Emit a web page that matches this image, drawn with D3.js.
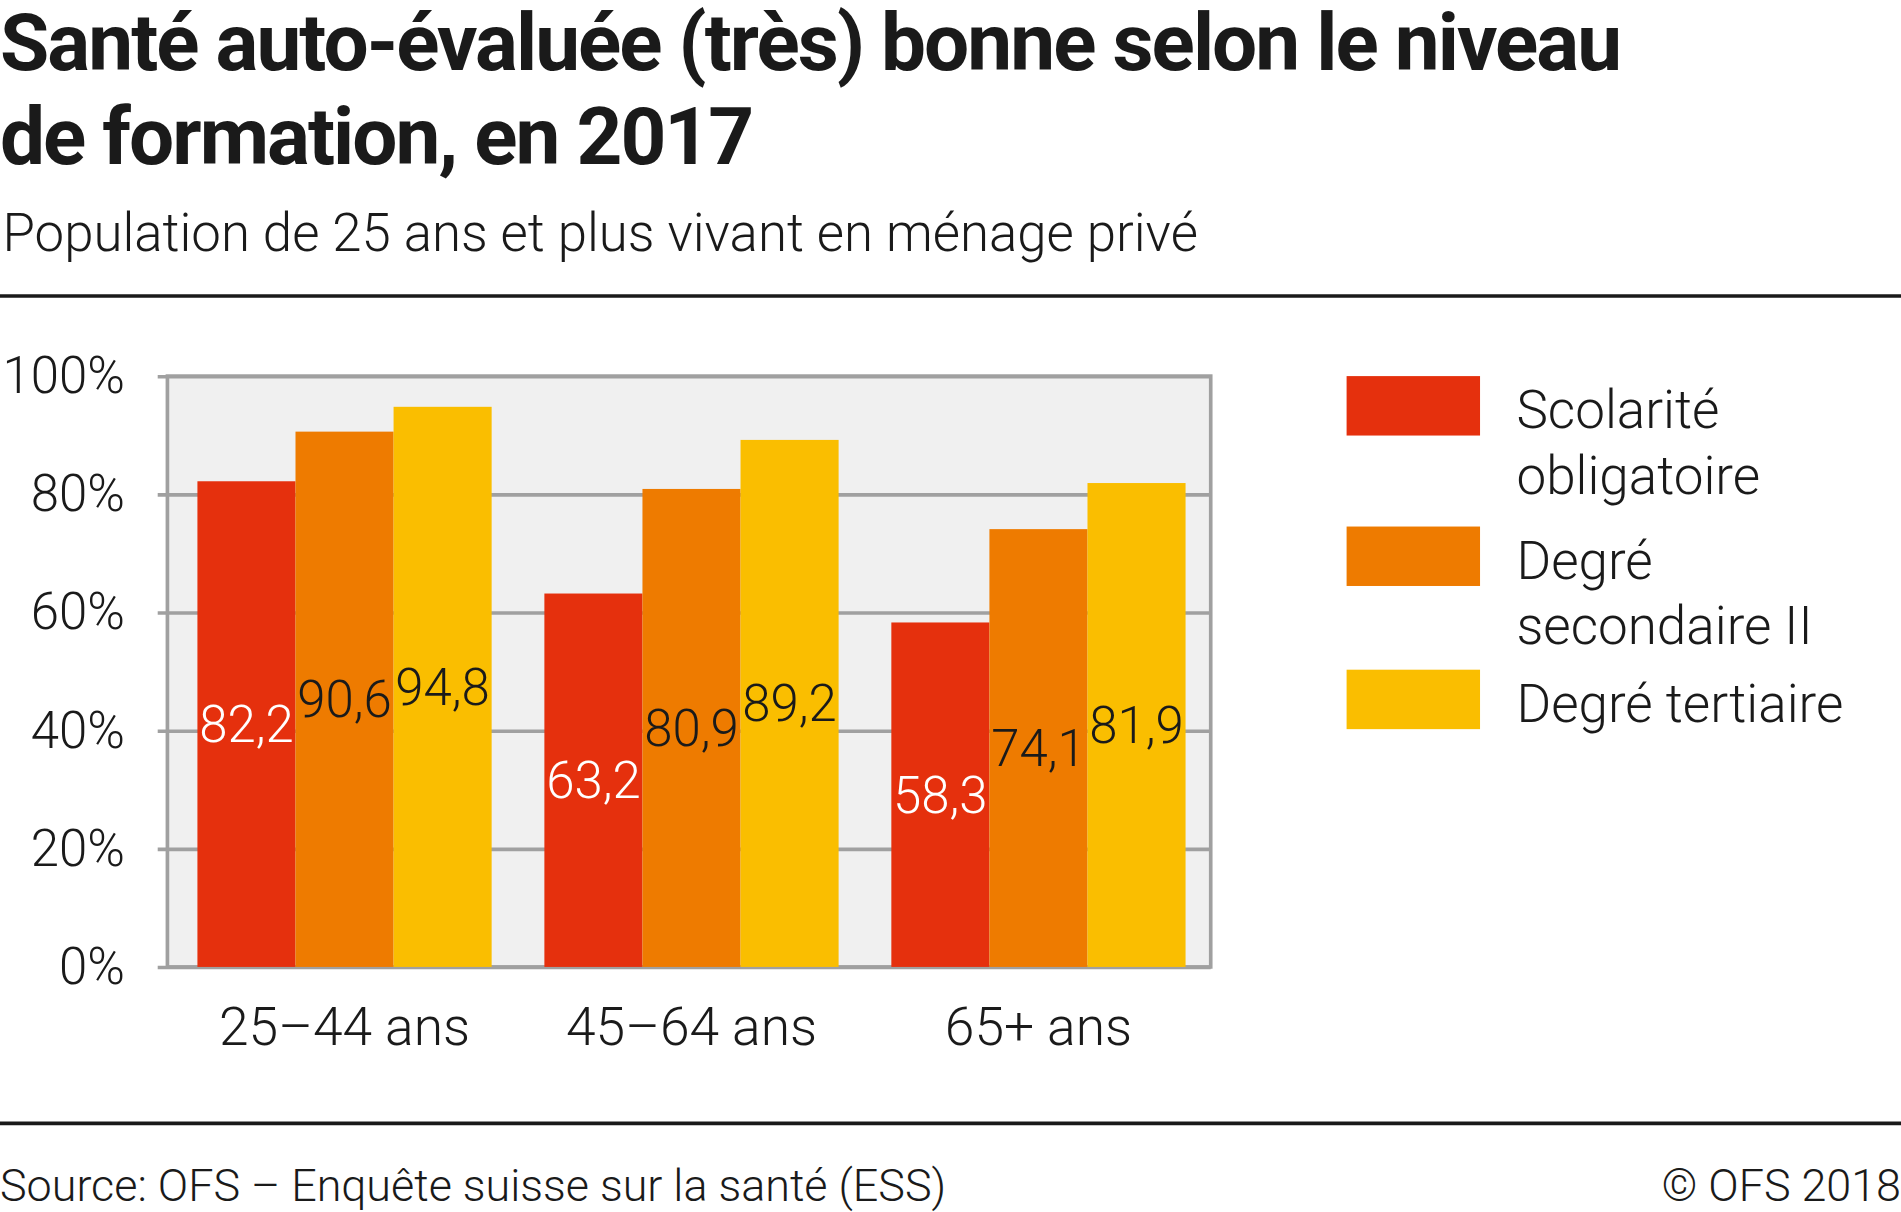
<!DOCTYPE html>
<html>
<head>
<meta charset="utf-8">
<script src="https://cdn.jsdelivr.net/npm/d3@7"></script>
<style>
  body { margin: 0; background: #fff; }
  text { font-family: Roboto, "Noto Sans", sans-serif; }
</style>
</head>
<body>
<div id="chart"></div>
<script>
// categories and series
const ageGroups = ["25–44 ans", "45–64 ans", "65+ ans"];
const seriesNames = ["Scolarité obligatoire", "Degré secondaire II", "Degré tertiaire"];
const legendLines = [["Scolarité", "obligatoire"], ["Degré", "secondaire II"], ["Degré tertiaire"]];
const scolarite = [82.2, 63.2, 58.3];
const secondaire = [90.6, 80.9, 74.1];
const tertiaire = [94.8, 89.2, 81.9];
const yTicks = [0, 20, 40, 60, 80, 100];
const colors = ["#e5300d", "#ee7b00", "#fabe00"];

// layout is drawn in a 1567x999 box, then stretched to the window
const W = 1567, H = 999;
const svg = d3.select("#chart").append("svg")
  .attr("width", 1901).attr("height", 1212)
  .attr("viewBox", `0 0 ${W} ${H}`)
  .attr("preserveAspectRatio", "none");

// title + subtitle
svg.append("text").attr("x", 0).attr("y", 58)
  .attr("font-size", 66).attr("font-weight", 700).attr("letter-spacing", -1.6)
  .attr("fill", "#1a1a1a")
  .text("Santé auto-évaluée (très) bonne selon le niveau");
svg.append("text").attr("x", 0).attr("y", 135)
  .attr("font-size", 66).attr("font-weight", 700).attr("letter-spacing", -1.6)
  .attr("fill", "#1a1a1a")
  .text("de formation, en 2017");
svg.append("text").attr("x", 2).attr("y", 207)
  .attr("font-size", 43.5).attr("font-weight", 300).attr("fill", "#1a1a1a")
  .text("Population de 25 ans et plus vivant en ménage privé");

svg.append("line").attr("x1", 0).attr("x2", W).attr("y1", 244).attr("y2", 244)
  .attr("stroke", "#1a1a1a").attr("stroke-width", 3);
svg.append("line").attr("x1", 0).attr("x2", W).attr("y1", 926).attr("y2", 926)
  .attr("stroke", "#1a1a1a").attr("stroke-width", 3);

// plot area
const plot = { left: 138, right: 998, top: 310, bottom: 797 };

const x0 = d3.scaleBand().domain(ageGroups)
  .range([plot.left + 3, plot.right + 1]).paddingInner(0.152).paddingOuter(0.076);
const x1 = d3.scaleBand().domain(seriesNames).range([0, x0.bandwidth()]);
const y = d3.scaleLinear().domain([0, 100]).range([plot.bottom, plot.top]);

svg.append("rect")
  .attr("x", plot.left).attr("y", plot.top)
  .attr("width", plot.right - plot.left).attr("height", plot.bottom - plot.top)
  .attr("fill", "#f0f0f0");

// y axis with gridlines
const yAxis = svg.append("g")
  .attr("transform", `translate(${plot.left},0)`)
  .call(d3.axisLeft(y).tickValues(yTicks)
    .tickSize(-(plot.right - plot.left)).tickPadding(35)
    .tickFormat(d => d + "%"));
yAxis.select(".domain").remove();
yAxis.selectAll(".tick line")
  .attr("x1", -8).attr("stroke", "#a0a0a0").attr("stroke-width", 3);
yAxis.selectAll(".tick text")
  .attr("font-size", 42).attr("font-weight", 300).attr("fill", "#1a1a1a")
  .attr("font-family", "Roboto");

// frame
svg.append("rect")
  .attr("x", plot.left).attr("y", plot.top)
  .attr("width", plot.right - plot.left).attr("height", plot.bottom - plot.top)
  .attr("fill", "none").attr("stroke", "#a0a0a0").attr("stroke-width", 3);

const rows = ageGroups.map((g, i) => ({
  group: g,
  values: [scolarite[i], secondaire[i], tertiaire[i]]
}));

const groups = svg.selectAll(".grp").data(rows).enter().append("g")
  .attr("transform", d => `translate(${x0(d.group)},0)`);

groups.selectAll("rect").data(d => d.values).enter().append("rect")
  .attr("x", (d, j) => x1(seriesNames[j]))
  .attr("width", x1.bandwidth())
  .attr("y", d => y(d))
  .attr("height", d => y(0) - y(d))
  .attr("fill", (d, j) => colors[j]);

// value labels in the middle of each bar
groups.selectAll(".val").data(d => d.values).enter().append("text")
  .attr("x", (d, j) => x1(seriesNames[j]) + x1.bandwidth() / 2)
  .attr("y", d => (y(d) + y(0)) / 2)
  .attr("dy", "0.35em")
  .attr("text-anchor", "middle")
  .attr("font-size", 42).attr("font-weight", 300)
  .attr("fill", (d, j) => j === 0 ? "#fff" : "#1a1a1a")
  .text(d => d.toFixed(1).replace(".", ","));

// x axis labels
const xAxis = svg.append("g")
  .attr("transform", `translate(0,${plot.bottom})`)
  .call(d3.axisBottom(x0).tickSize(0).tickPadding(33));
xAxis.select(".domain").remove();
xAxis.selectAll("text")
  .attr("font-size", 44).attr("font-weight", 300).attr("fill", "#1a1a1a")
  .attr("font-family", "Roboto");

// legend
const legendY = [310, 434, 552];
const legend = svg.selectAll(".leg").data(seriesNames).enter().append("g")
  .attr("transform", (d, i) => `translate(1110,${legendY[i]})`);
legend.append("rect").attr("width", 110).attr("height", 49)
  .attr("fill", (d, i) => colors[i]);
legend.append("text")
  .attr("x", 140).attr("y", 43)
  .attr("font-size", 43.7).attr("font-weight", 300).attr("fill", "#1a1a1a")
  .selectAll("tspan").data((d, i) => legendLines[i]).enter().append("tspan")
  .attr("x", 140).attr("dy", (d, k) => k === 0 ? 0 : 54)
  .text(d => d);

// footer
svg.append("text").attr("x", 0).attr("y", 990)
  .attr("font-size", 37).attr("font-weight", 300).attr("fill", "#1a1a1a")
  .text("Source: OFS – Enquête suisse sur la santé (ESS)");
svg.append("text").attr("x", W).attr("y", 990).attr("text-anchor", "end")
  .attr("font-size", 37).attr("font-weight", 300).attr("fill", "#1a1a1a")
  .text("© OFS 2018");
</script>
</body>
</html>
